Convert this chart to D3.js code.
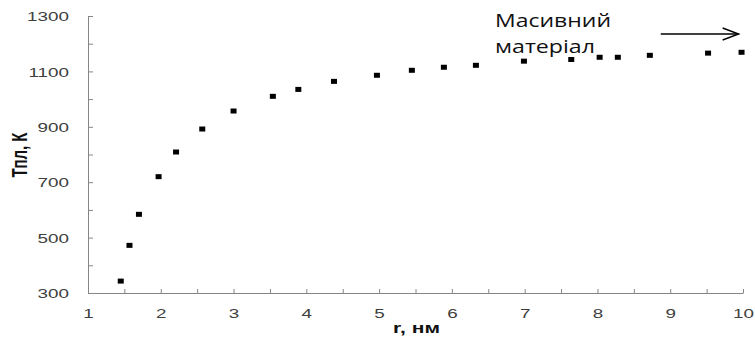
<!DOCTYPE html>
<html>
<head>
<meta charset="utf-8">
<script src="https://cdn.jsdelivr.net/npm/d3@7"></script>
<style>
  html, body { margin: 0; padding: 0; background: #fff; }
  svg { display: block; }
</style>
</head>
<body>
<svg id="chart" width="755" height="347"></svg>
<script>
// Data: particle radius r (nm) vs melting temperature Tпл (K)
const radius = [1.45, 1.57, 1.70, 1.97, 2.21, 2.57, 3.00, 3.54, 3.89, 4.38, 4.97, 5.45, 5.89, 6.33, 6.99, 7.64, 8.03, 8.28, 8.72, 9.52, 9.98];
const meltT  = [343, 472, 584, 720, 809, 892, 957, 1010, 1035, 1064, 1086, 1104, 1115, 1122, 1137, 1143, 1151, 1151, 1158, 1166, 1169];
const xTicks = [1, 1.5, 2, 2.5, 3, 3.5, 4, 4.5, 5, 5.5, 6, 6.5, 7, 7.5, 8, 8.5, 9, 9.5, 10];
const yTicks = [300, 400, 500, 600, 700, 800, 900, 1000, 1100, 1200, 1300];
const xLabel = "r, нм";
const yLabel = "Тпл, К";
const noteLines = ["Масивний", "матеріал"];

const svg = d3.select("#chart");
const SX = 1.45; // horizontal stretch of the original picture's text
const axisColor = "#868686";
const labelColor = "#404040";

const x = d3.scaleLinear().domain([1, 10]).range([88, 743]);
const y = d3.scaleLinear().domain([300, 1300]).range([293, 16]);

// X axis (ticks pointing inward/up)
const gx = svg.append("g").attr("transform", `translate(0,${y(300)})`)
  .call(d3.axisBottom(x).tickValues(xTicks).tickSizeInner(-4).tickSizeOuter(0)
    .tickFormat(d => Number.isInteger(d) ? d : ""));
gx.select(".domain").attr("stroke", axisColor).attr("stroke-width", 1);
gx.selectAll(".tick line").attr("stroke", axisColor);
gx.selectAll(".tick text")
  .attr("y", 0).attr("dy", 0)
  .attr("transform", `translate(0,25) scale(${SX},1)`)
  .attr("fill", labelColor)
  .style("font-family", "Liberation Sans, Arial, sans-serif")
  .style("font-size", "13px");

// Y axis (ticks pointing inward/right)
const gy = svg.append("g").attr("transform", `translate(${x(1)},0)`)
  .call(d3.axisLeft(y).tickValues(yTicks).tickSizeInner(-5).tickSizeOuter(0)
    .tickFormat(d => (d - 300) % 200 === 0 ? d : ""));
gy.select(".domain").attr("stroke", axisColor).attr("stroke-width", 1);
gy.selectAll(".tick line").attr("stroke", axisColor);
gy.selectAll(".tick text")
  .attr("x", 0).attr("dy", "0.36em")
  .attr("text-anchor", "end")
  .attr("transform", `translate(-19,0) scale(${SX},1)`)
  .attr("fill", labelColor)
  .style("font-family", "Liberation Sans, Arial, sans-serif")
  .style("font-size", "13px");

// Axis titles
svg.append("text")
  .attr("transform", `translate(${(x(1) + x(10)) / 2 + 1},333) scale(${SX},1)`)
  .attr("text-anchor", "middle")
  .style("font-family", "Liberation Sans, Arial, sans-serif")
  .style("font-size", "14.5px").style("font-weight", "bold")
  .attr("fill", "#111")
  .text(xLabel);

svg.append("text")
  .attr("transform", `translate(27,155) scale(${SX},1) rotate(-90)`)
  .attr("text-anchor", "middle")
  .style("font-family", "Liberation Sans, Arial, sans-serif")
  .style("font-size", "15px").style("font-weight", "bold")
  .attr("fill", "#111")
  .text(yLabel);

// Data points: square markers
const pts = radius.map((r, i) => ({ r, t: meltT[i] }));
svg.append("g").selectAll("rect").data(pts).join("rect")
  .attr("x", d => x(d.r) - 3)
  .attr("y", d => y(d.t) - 2.5)
  .attr("width", 6).attr("height", 5)
  .attr("fill", "#000");

// Annotation
const note = svg.append("g")
  .style("font-family", "Open Sans, Noto Sans, sans-serif")
  .style("font-size", "18px").attr("fill", "#111");
note.append("text").attr("x", 495).attr("y", 27)
  .attr("textLength", 116).attr("lengthAdjust", "spacingAndGlyphs").text(noteLines[0]);
note.append("text").attr("x", 495).attr("y", 53)
  .attr("textLength", 100).attr("lengthAdjust", "spacingAndGlyphs").text(noteLines[1]);

// Arrow toward bulk material
const ax0 = x(8.87), ax1 = x(9.94), ay = y(1235);
svg.append("line").attr("x1", ax0).attr("x2", ax1).attr("y1", ay).attr("y2", ay)
  .attr("stroke", "#000").attr("stroke-width", 1.4);
svg.append("path")
  .attr("d", `M${ax1 - 16},${ay - 6}L${ax1},${ay}L${ax1 - 16},${ay + 6}`)
  .attr("fill", "none").attr("stroke", "#000").attr("stroke-width", 1.4);
</script>
</body>
</html>
